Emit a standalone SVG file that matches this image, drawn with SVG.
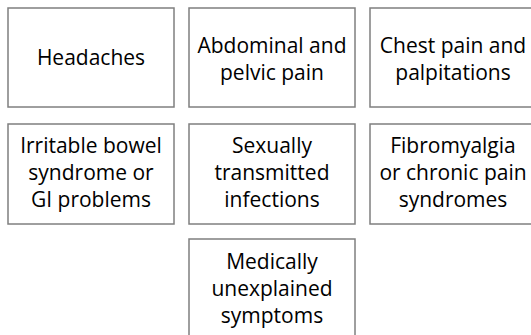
<svg xmlns="http://www.w3.org/2000/svg" width="531" height="335" viewBox="0 0 531 335">
<style>
.box{fill:#ffffff;stroke:#7f7f7f;stroke-width:1.5}
.t{font-family:"Open Sans","Liberation Sans",sans-serif;font-size:21px;fill:#000000;text-anchor:middle}
</style>
<rect width="531" height="335" fill="#ffffff"/>
<g id="n1"><rect class="box" x="8" y="8" width="166" height="99"/><text class="t" x="91" y="65">Headaches</text></g>
<g id="n2"><rect class="box" x="189" y="8" width="166" height="99"/><text class="t" x="272" y="53">Abdominal and</text><text class="t" x="272" y="80">pelvic pain</text></g>
<g id="n3"><rect class="box" x="370" y="8" width="166" height="99"/><text class="t" x="453" y="53">Chest pain and</text><text class="t" x="453" y="80">palpitations</text></g>
<g id="n4"><rect class="box" x="8" y="124" width="166" height="100"/><text class="t" x="91" y="153">Irritable bowel</text><text class="t" x="91" y="180">syndrome or</text><text class="t" x="91" y="207">GI problems</text></g>
<g id="n5"><rect class="box" x="189" y="124" width="166" height="100"/><text class="t" x="272" y="153">Sexually</text><text class="t" x="272" y="180">transmitted</text><text class="t" x="272" y="207">infections</text></g>
<g id="n6"><rect class="box" x="370" y="124" width="166" height="100"/><text class="t" x="453" y="153">Fibromyalgia</text><text class="t" x="453" y="180">or chronic pain</text><text class="t" x="453" y="207">syndromes</text></g>
<g id="n7"><rect class="box" x="189" y="239" width="166" height="100"/><text class="t" x="272" y="269">Medically</text><text class="t" x="272" y="296">unexplained</text><text class="t" x="272" y="323">symptoms</text></g>
<g id="connectors"></g>
</svg>
